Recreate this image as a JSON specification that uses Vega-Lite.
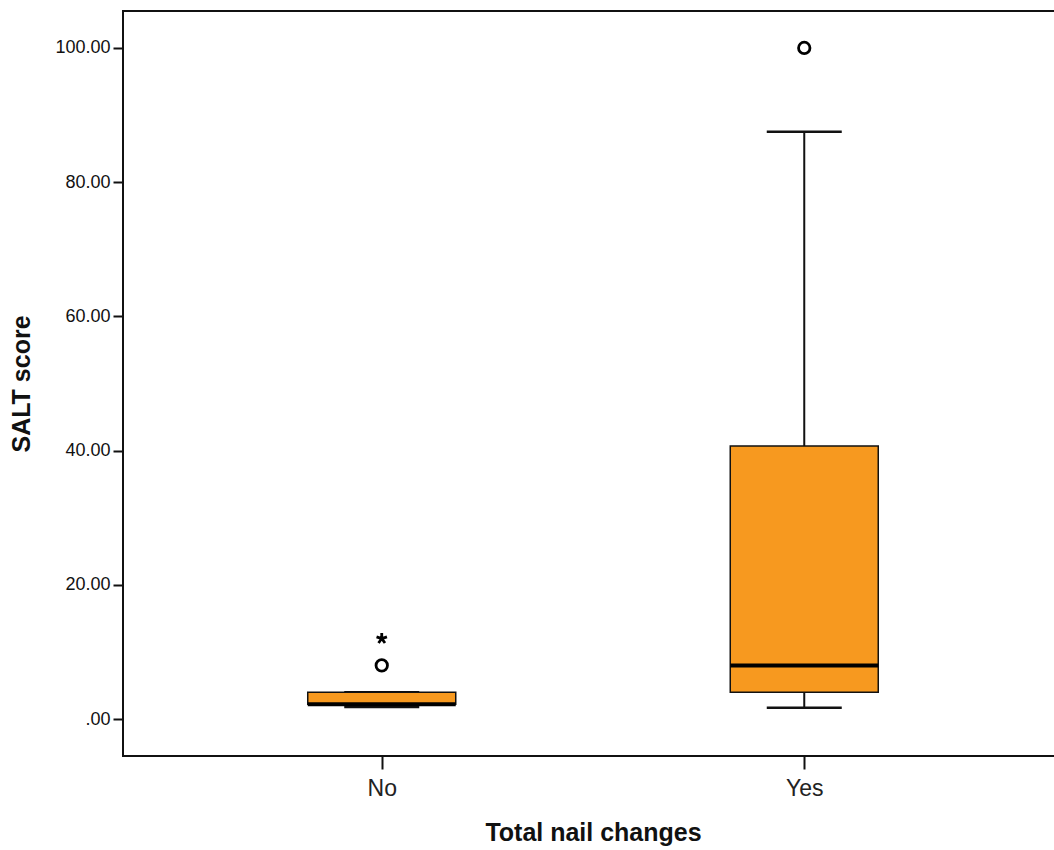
{
  "$schema": "https://vega.github.io/schema/vega-lite/v6.json",
  "width": 940,
  "height": 745,
  "autosize": {"type": "none"},
  "padding": {"left": 123, "top": 11, "right": 0, "bottom": 94},
  "background": "#ffffff",
  "config": {
    "view": {"stroke": "#111111", "strokeWidth": 2},
    "font": "Liberation Sans",
    "axis": {
      "domain": false,
      "grid": false,
      "tickColor": "#111111",
      "tickWidth": 2,
      "labelFont": "Liberation Sans",
      "titleFont": "Liberation Sans",
      "titleFontWeight": "bold",
      "titleColor": "#111111",
      "titleFontSize": 25
    }
  },
  "datasets": {
    "boxes": [
      {"group": "No", "lower": 1.8, "q1": 2.2, "median": 2.2, "q3": 4.0, "upper": 4.0},
      {"group": "Yes", "lower": 1.7, "q1": 4.0, "median": 8.0, "q3": 40.7, "upper": 87.5}
    ],
    "outliers": [
      {"group": "No", "value": 8.0, "kind": "outlier"},
      {"group": "No", "value": 12.0, "kind": "extreme"},
      {"group": "Yes", "value": 100.0, "kind": "outlier"}
    ]
  },
  "encoding": {
    "x": {
      "field": "group",
      "type": "nominal",
      "scale": {"type": "point", "padding": 0.6124, "domain": ["No", "Yes"]},
      "axis": {
        "title": "Total nail changes",
        "labelAngle": 0,
        "labelFontSize": 23,
        "labelColor": "#222222",
        "tickSize": 13,
        "labelPadding": 8,
        "titlePadding": 20
      }
    }
  },
  "layer": [
    {
      "data": {"name": "boxes"},
      "mark": {"type": "rule", "color": "#111111", "strokeWidth": 2},
      "encoding": {
        "y": {
          "field": "lower",
          "type": "quantitative",
          "scale": {"domain": [-5.5, 105.5], "nice": false, "zero": false},
          "axis": {
            "title": "SALT score",
            "values": [0, 20, 40, 60, 80, 100],
            "labelExpr": "datum.value == 0 ? '.00' : format(datum.value, '.2f')",
            "labelFontSize": 18,
            "labelColor": "#111111",
            "tickSize": 10,
            "labelPadding": 3,
            "titlePadding": 20
          }
        },
        "y2": {"field": "upper"}
      }
    },
    {
      "data": {"name": "boxes"},
      "mark": {"type": "tick", "color": "#111111", "size": 75, "thickness": 2.5, "opacity": 1},
      "encoding": {"y": {"field": "lower", "type": "quantitative"}}
    },
    {
      "data": {"name": "boxes"},
      "mark": {"type": "tick", "color": "#111111", "size": 75, "thickness": 2.5, "opacity": 1},
      "encoding": {"y": {"field": "upper", "type": "quantitative"}}
    },
    {
      "data": {"name": "boxes"},
      "mark": {"type": "bar", "width": 148, "fill": "#F7991F", "stroke": "#111111", "strokeWidth": 1.5, "opacity": 1},
      "encoding": {
        "y": {"field": "q1", "type": "quantitative"},
        "y2": {"field": "q3"}
      }
    },
    {
      "data": {"name": "boxes"},
      "mark": {"type": "tick", "color": "#000000", "size": 148, "thickness": 4, "opacity": 1},
      "encoding": {"y": {"field": "median", "type": "quantitative"}}
    },
    {
      "data": {"name": "outliers"},
      "mark": {"type": "point", "filled": false, "strokeWidth": 2.8, "color": "#000000", "opacity": 1},
      "encoding": {
        "y": {"field": "value", "type": "quantitative"},
        "shape": {
          "field": "kind",
          "type": "nominal",
          "scale": {
            "domain": ["outlier", "extreme"],
            "range": ["circle", "M0,0L0,-1M0,0L0.951,-0.309M0,0L0.588,0.809M0,0L-0.588,0.809M0,0L-0.951,-0.309"]
          },
          "legend": null
        },
        "size": {
          "field": "kind",
          "type": "nominal",
          "scale": {"domain": ["outlier", "extreme"], "range": [130, 120]},
          "legend": null
        }
      }
    }
  ]
}
